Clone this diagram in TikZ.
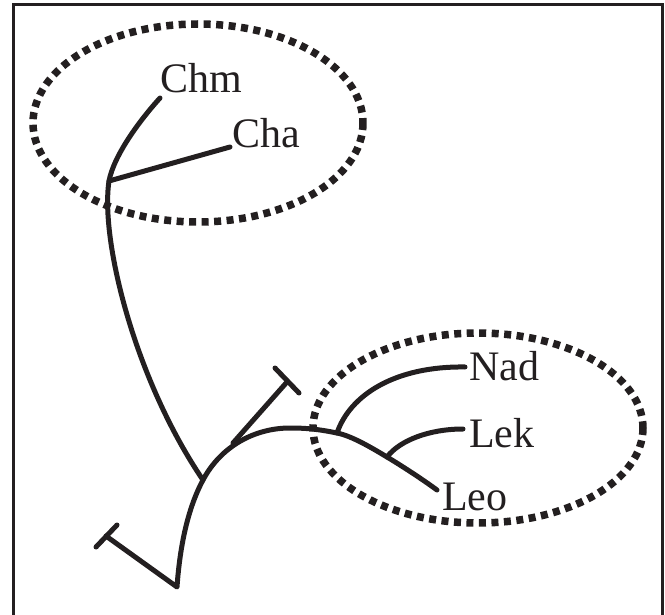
\documentclass[tikz,border=0pt]{standalone}
\usepackage{fontspec}
\setmainfont{Liberation Serif}
\definecolor{ink}{HTML}{231F20}
\begin{document}
\begin{tikzpicture}[x=1pt,y=-1pt,
  branch/.style={draw=ink,line width=5pt,line cap=round,line join=round},
  group/.style={draw=ink,line width=7.5pt,dash pattern=on 7pt off 5.5pt},
  taxon/.style={anchor=base west,inner sep=0pt,font=\fontsize{42}{42}\selectfont,text=ink},
  frame/.style={draw=ink,line width=3pt}]
\useasboundingbox (0,0) rectangle (665,615);

% open frame (left, top, right)
\draw[frame] (13.5,625) -- (13.5,5) -- (662.5,5) -- (662.5,625);

% grouping ellipses
\draw[group] (198,123) ellipse [x radius=165, y radius=99];
\draw[group] (478,428) ellipse [x radius=165, y radius=95];

% taxon labels
\node[taxon] (chm) at (160,93) {Chm};
\node[taxon] (cha) at (232,148) {Cha};
\node[taxon] (nad) at (469,380) {Nad};
\node[taxon] (lek) at (469,447) {Lek};
\node[taxon] (leo) at (442,510) {Leo};

% branch points and tips
\coordinate (chmtip) at (160,98);
\coordinate (chatip) at (230,147);
\coordinate (j1) at (109,181);
\coordinate (j2) at (203,480);
\coordinate (base) at (177,587);
\coordinate (apex) at (290,428);
\coordinate (nj) at (337,433);
\coordinate (kj) at (387,457);
\coordinate (leotip) at (437,490);
\coordinate (nadtip) at (465,367);
\coordinate (lektip) at (463,429);
\coordinate (lstem) at (106,536);
\coordinate (lbarA) at (96,547);
\coordinate (lbarB) at (117,525);
\coordinate (ustemA) at (233,443);
\coordinate (ustemB) at (287,382);
\coordinate (ubarA) at (275,368);
\coordinate (ubarB) at (299,393);

% trunk to the upper group
\draw[branch] (chmtip) .. controls (140,120) and (114,155) .. (j1)
                       .. controls (100,240) and (135,380) .. (j2);
\draw[branch] (j1) -- (chatip);

% lower backbone with the left truncated branch
\draw[branch] (lstem) -- (base)
  .. controls (180,545) and (188,508) .. (j2)
  .. controls (221,446) and (255,428) .. (apex)
  .. controls (310,428) and (322,430) .. (nj)
  .. controls (352,436) and (372,448) .. (kj)
  .. controls (402,466) and (422,479) .. (leotip);
\draw[branch] (lbarA) -- (lbarB);

% upper truncated branch
\draw[branch] (ustemA) -- (ustemB);
\draw[branch] (ubarA) -- (ubarB);

% lower group branches
\draw[branch] (nj) .. controls (350,395) and (395,366) .. (nadtip);
\draw[branch] (kj) .. controls (400,440) and (430,429) .. (lektip);
\end{tikzpicture}
\end{document}
